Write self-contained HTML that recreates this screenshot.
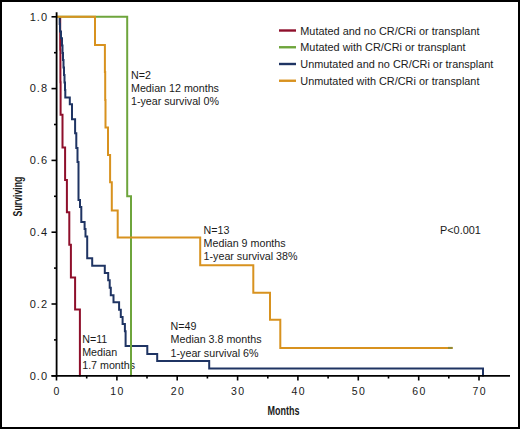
<!DOCTYPE html>
<html><head><meta charset="utf-8"><style>
html,body{margin:0;padding:0;background:#000;}
svg{display:block;}
text{font-family:"Liberation Sans",sans-serif;fill:#1a1a1a;}
.tl{font-size:10.5px;letter-spacing:1.4px;}
.yl{font-size:11px;letter-spacing:1px;}
.lg{font-size:10.9px;}
.an{font-size:10.7px;}
.ax{font-size:13px;font-weight:bold;}
</style></head><body>
<svg width="520" height="429" viewBox="0 0 520 429">
<rect x="0" y="0" width="520" height="429" fill="#000"/>
<rect x="2" y="2" width="516" height="425" fill="#fff"/>
<text x="131" y="78.6" class="an">N=2</text><text x="131" y="91.9" class="an">Median 12 months</text><text x="131" y="105.2" class="an">1-year survival 0%</text><text x="203.6" y="233.8" class="an">N=13</text><text x="203.6" y="247.1" class="an">Median 9 months</text><text x="203.6" y="260.4" class="an">1-year survival 38%</text><text x="170.6" y="329.7" class="an">N=49</text><text x="170.6" y="343.2" class="an">Median 3.8 months</text><text x="170.6" y="356.7" class="an">1-year survival 6%</text><text x="82.2" y="342.6" class="an">N=11</text><text x="82.2" y="355.6" class="an">Median</text><text x="82.2" y="368.6" class="an">1.7 months</text><text x="440" y="233.8" class="lg">P&lt;0.001</text>
<g fill="none" stroke-width="2" stroke-linejoin="miter" stroke-linecap="butt">
<path d="M60.2,16.8 V49.6 H60.4 V82.2 H60.6 V114.8 H62.5 V147.5 H65.1 V180.1 H66.9 V212.2 H69.3 V244.8 H70.9 V277.5 H75.1 V309.6 H79.9 V376.5" stroke="#8e0f2b"/>
<path d="M59.7,16.8 V24 H60 V31.5 H61 V38.3 H62 V45.5 H62.5 V53 H63 V60 H63.5 V67.5 H64 V75 H64.5 V82.5 H65 V90 H65.3 V97.4 H69.8 V104.3 H72 V119.2 H75.1 V133.3 H76.3 V148 H77.5 V162 H78.5 V200 H80 V207 H81.3 V222 H84.6 V229 H85.5 V236.5 H87.2 V258.3 H92.2 V265.8 H104.8 V273.1 H108.2 V280.3 H109.7 V287.8 H110.8 V295.3 H113.5 V302.2 H119.1 V309.8 H120.8 V316.9 H122.6 V323.9 H124.9 V331.3 H125.6 V346 H147.3 V353.9 H157.2 V361 H209.2 V368.4 H483 V376.5" stroke="#1f3463"/>
<path d="M57,16.8 H127.2 V196.2 H131 V376.5" stroke="#6ea53c"/>
<path d="M57,16.8 H95 V45.1 H104.9 V72 H105.2 V100 H105.5 V127.6 H108 V154.9 H110.1 V182.3 H111.8 V210.5 H117.7 V237.6 H200.2 V265.3 H253.3 V292.8 H270 V319.8 H280.3 V347.9 H452.6" stroke="#d8921f"/>
<line x1="448" y1="347.9" x2="452.6" y2="347.9" stroke="#8f8a35"/>
</g>
<g stroke="#000" stroke-width="1.8">
<line x1="56.6" y1="12.3" x2="56.6" y2="376.6"/>
<line x1="51.5" y1="375.8" x2="510" y2="375.8"/>
</g>
<g stroke="#000" stroke-width="1.6">
<line x1="51.5" y1="375.8" x2="57" y2="375.8"/><line x1="51.5" y1="304.0" x2="57" y2="304.0"/><line x1="51.5" y1="232.2" x2="57" y2="232.2"/><line x1="51.5" y1="160.4" x2="57" y2="160.4"/><line x1="51.5" y1="88.6" x2="57" y2="88.6"/><line x1="51.5" y1="16.8" x2="57" y2="16.8"/><line x1="54" y1="339.9" x2="57" y2="339.9"/><line x1="54" y1="268.1" x2="57" y2="268.1"/><line x1="54" y1="196.3" x2="57" y2="196.3"/><line x1="54" y1="124.5" x2="57" y2="124.5"/><line x1="54" y1="52.7" x2="57" y2="52.7"/><line x1="56.5" y1="375" x2="56.5" y2="380.5"/><line x1="116.9" y1="375" x2="116.9" y2="380.5"/><line x1="177.2" y1="375" x2="177.2" y2="380.5"/><line x1="237.6" y1="375" x2="237.6" y2="380.5"/><line x1="297.9" y1="375" x2="297.9" y2="380.5"/><line x1="358.3" y1="375" x2="358.3" y2="380.5"/><line x1="418.7" y1="375" x2="418.7" y2="380.5"/><line x1="479.0" y1="375" x2="479.0" y2="380.5"/><line x1="86.7" y1="375" x2="86.7" y2="378.5"/><line x1="147.0" y1="375" x2="147.0" y2="378.5"/><line x1="207.4" y1="375" x2="207.4" y2="378.5"/><line x1="267.8" y1="375" x2="267.8" y2="378.5"/><line x1="328.1" y1="375" x2="328.1" y2="378.5"/><line x1="388.5" y1="375" x2="388.5" y2="378.5"/><line x1="448.8" y1="375" x2="448.8" y2="378.5"/>
</g>
<text x="48.0" y="379.6" text-anchor="end" class="yl">0.0</text><text x="48.0" y="307.8" text-anchor="end" class="yl">0.2</text><text x="48.0" y="236.0" text-anchor="end" class="yl">0.4</text><text x="48.0" y="164.2" text-anchor="end" class="yl">0.6</text><text x="48.0" y="92.4" text-anchor="end" class="yl">0.8</text><text x="48.0" y="20.6" text-anchor="end" class="yl">1.0</text><text x="57.2" y="395" text-anchor="middle" class="tl">0</text><text x="117.6" y="395" text-anchor="middle" class="tl">10</text><text x="178.0" y="395" text-anchor="middle" class="tl">20</text><text x="238.3" y="395" text-anchor="middle" class="tl">30</text><text x="298.7" y="395" text-anchor="middle" class="tl">40</text><text x="359.0" y="395" text-anchor="middle" class="tl">50</text><text x="419.4" y="395" text-anchor="middle" class="tl">60</text><text x="479.8" y="395" text-anchor="middle" class="tl">70</text>
<line x1="279" y1="30.50" x2="296" y2="30.50" stroke="#8e0f2b" stroke-width="2.4"/><text x="300.3" y="34.60" class="lg">Mutated and no CR/CRi or transplant</text><line x1="279" y1="47.25" x2="296" y2="47.25" stroke="#6ea53c" stroke-width="2.4"/><text x="300.3" y="51.35" class="lg">Mutated with CR/CRi or transplant</text><line x1="279" y1="64.00" x2="296" y2="64.00" stroke="#1f3463" stroke-width="2.4"/><text x="300.3" y="68.10" class="lg">Unmutated and no CR/CRi or transplant</text><line x1="279" y1="80.75" x2="296" y2="80.75" stroke="#d8921f" stroke-width="2.4"/><text x="300.3" y="84.85" class="lg">Unmutated with CR/CRi or transplant</text>
<text class="ax" transform="translate(22.4,216.4) rotate(-90) scale(0.673,1)">Surviving</text>
<text class="ax" transform="translate(267.4,414.9) scale(0.693,1)">Months</text>
</svg>
</body></html>
